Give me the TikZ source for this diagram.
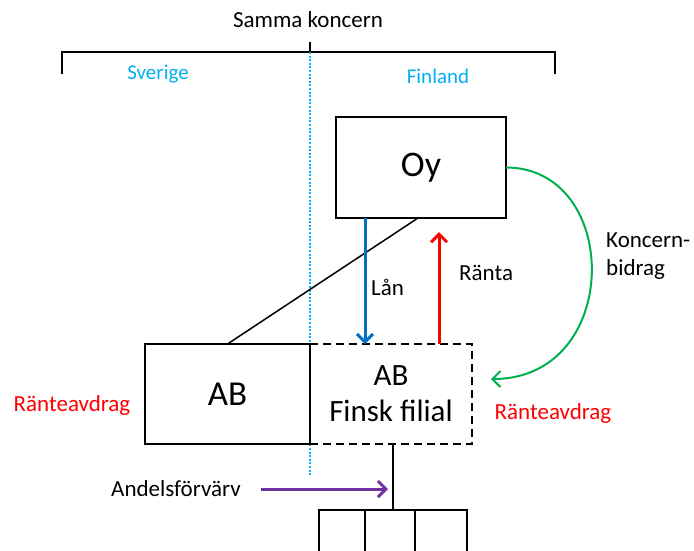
\documentclass[tikz,border=0pt]{standalone}
\usepackage{fontspec}
\setmainfont{Carlito}
\usepackage{xcolor}
\usepackage{tikz}
\usetikzlibrary{arrows.meta, positioning}
\definecolor{landcyan}{RGB}{0,176,240}
\definecolor{lanblue}{RGB}{0,112,192}
\definecolor{bidraggreen}{RGB}{0,176,80}
\definecolor{andelpurple}{RGB}{112,48,160}
\tikzset{
  entity/.style={draw, line width=2.8pt, inner sep=0pt, outer sep=0pt,
                 align=center},
  lbl/.style={font=\fontsize{23}{28}\selectfont, inner sep=0pt},
  land/.style={font=\fontsize{21}{25}\selectfont, inner sep=0pt,
               text=landcyan},
  flow/.style={-{Straight Barb[length=8pt, width=16pt]}, line width=3pt},
  cell/.style={draw, line width=1.6pt, minimum width=50pt,
               minimum height=60pt, inner sep=0pt, outer sep=0pt},
  bracket/.style={draw, line width=1.3pt}
}

\begin{document}
\begin{tikzpicture}[x=1pt, y=-1pt]
  \useasboundingbox (0,0) rectangle (694,550);
  \clip (0,0) rectangle (694,550);

  % Group bracket
  \node[lbl] (samma) at (308,20) {Samma koncern};
  \coordinate (brl) at (62,52);
  \coordinate (brr) at (555,52);
  \coordinate (brm) at (310,52);
  \draw[bracket] ([yshift=-22pt]brl) -- (brl) -- (brr) -- ([yshift=-22pt]brr);
  \draw[bracket] (brm) -- ([yshift=10pt]brm);
  \draw[landcyan, line width=2pt, dash pattern=on 2pt off 1.6pt]
    (brm) -- ([yshift=-423pt]brm);
  \node[land] (sverige) at (158,74) {Sverige};
  \node[land] (finland) at (438,76) {Finland};

  % Companies
  \node[entity, minimum width=170pt, minimum height=101pt,
        font=\fontsize{36}{40}\selectfont]
    (oy) at (421,167.5) {Oy};
  \node[entity, minimum width=165pt, minimum height=100pt,
        font=\fontsize{35}{40}\selectfont]
    (ab) at (227.5,394) {AB};
  \node[entity, dash pattern=on 8pt off 5pt, right=0pt of ab,
        minimum width=162pt, minimum height=100pt,
        font=\fontsize{31}{36}\selectfont]
    (filial) {AB\\Finsk filial};

  % Holdings
  \node[cell, minimum width=46pt, anchor=north west] (cella) at (319,510) {};
  \node[cell, right=0pt of cella] (cellb) {};
  \node[cell, right=0pt of cellb, minimum width=52pt] (cellc) {};

  % Flows
  \draw[line width=1.5pt] ([xshift=-3pt]oy.south) -- (ab.north);
  \draw[flow, lanblue] ([xshift=-56pt]oy.south)
    -- ([xshift=-56pt]oy.south |- filial.north);
  \draw[flow, red] ([xshift=18pt]oy.south |- filial.north)
    -- ([xshift=18pt, yshift=-14pt]oy.south);
  \coordinate (bidragend) at ([xshift=19pt, yshift=15pt]filial.east);
  \draw[-{Straight Barb[length=8pt, width=16pt]}, bidraggreen, line width=2pt]
    (oy.east) .. controls +(116,0) and +(132,0) .. (bidragend);
  \draw[line width=1.6pt] ([xshift=2pt]filial.south)
    -- ([xshift=2pt]filial.south |- cellb.north);

  % Labels
  \node[lbl, anchor=west] (lan) at (371,287) {Lån};
  \node[lbl, anchor=west] (ranta) at (459,273) {Ränta};
  \node[lbl, anchor=west, align=left] (koncern) at (606,256)
    {Koncern-\\bidrag};
  \node[lbl, text=red] (avdragse) at (72,405) {Ränteavdrag};
  \node[lbl, text=red] (avdragfi) at (553,413) {Ränteavdrag};
  \node[lbl] (andel) at (176,489) {Andelsförvärv};
  \coordinate (andeltip) at (388,489);
  \draw[flow, andelpurple] ([xshift=20pt]andel.east) -- (andeltip);
\end{tikzpicture}
\end{document}
